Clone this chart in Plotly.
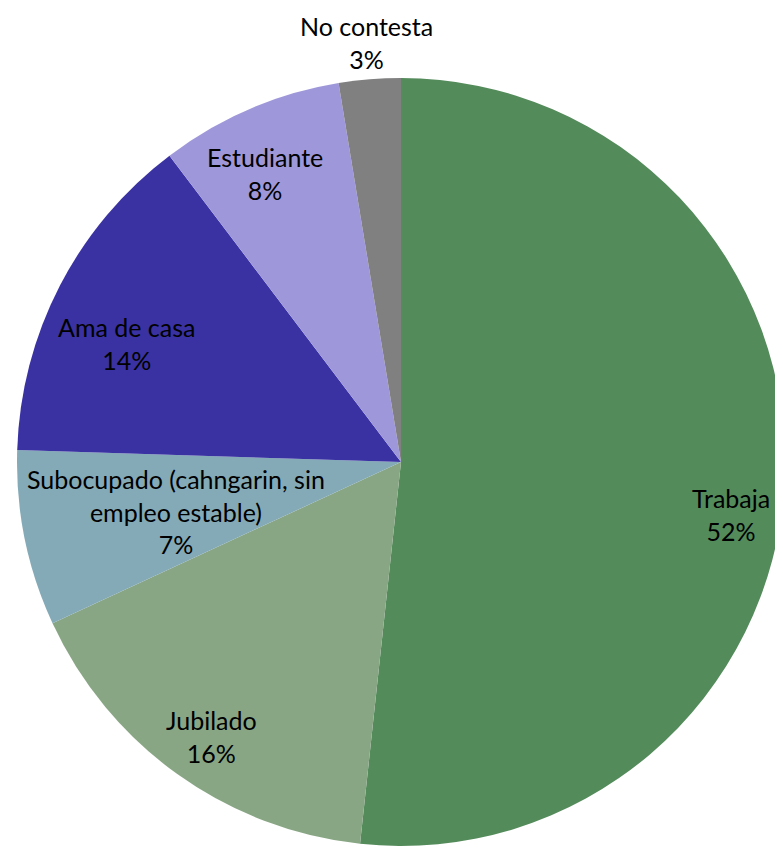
import math
import plotly.graph_objects as go

categories = ["Trabaja", "Jubilado", "Subocupado (cahngarin, sin<br>empleo estable)",
              "Ama de casa", "Estudiante", "No contesta"]
values = [51.7, 16.4, 7.4, 14.2, 7.7, 2.6]
pct_labels = ["52%", "16%", "7%", "14%", "8%", "3%"]

colors = ["#548b5b", "#88a684", "#84aab7", "#3a32a2", "#9e98da", "#808080"]

W, H = 783, 848
OFF = 8  # page body margin
# pie target in screen px: left 17, right 785, top 78, bottom 846
L, Rr, T, B = 17 - OFF, 785 - OFF, 78 - OFF, 846 - OFF
x0, x1 = L / W, min(Rr / W, 1.0)
y0, y1 = 1 - B / H, 1 - T / H

fig = go.Figure(go.Pie(
    labels=categories,
    values=values,
    sort=False,
    direction="clockwise",
    rotation=0,
    marker=dict(colors=colors, line=dict(width=0)),
    textinfo="none",
    hoverinfo="skip",
    showlegend=False,
    domain=dict(x=[x0, x1], y=[y0, y1]),
))

# label placement (style): angle nudge (deg) and radial fraction per slice
nudge = [6, -1, -1, -4, -2, 0]
rfrac = [0.87, 0.87, 0.60, 0.78, 0.83, 1.095]

cx_px = (L + Rr) / 2
cy_px = (T + B) / 2
R = (B - T) / 2

total = sum(values)
cum = 0
for i, (lab, v) in enumerate(zip(categories, values)):
    mid = (cum + v / 2) / total * 360 + nudge[i]
    cum += v
    th = math.radians(mid)
    px = cx_px + rfrac[i] * R * math.sin(th)
    py = cy_px - rfrac[i] * R * math.cos(th)
    fig.add_annotation(
        x=px / W, y=1 - py / H, xref="paper", yref="paper",
        text=f"{lab}<br>{pct_labels[i]}", showarrow=False,
        font=dict(family="Lato, Open Sans, sans-serif", size=25, color="#000000"),
        align="center", xanchor="center", yanchor="middle", borderpad=0,
    )

fig.update_layout(
    width=W, height=H,
    margin=dict(l=0, r=0, t=0, b=0),
    paper_bgcolor="white", plot_bgcolor="white",
)

fig.write_html("out.html")
